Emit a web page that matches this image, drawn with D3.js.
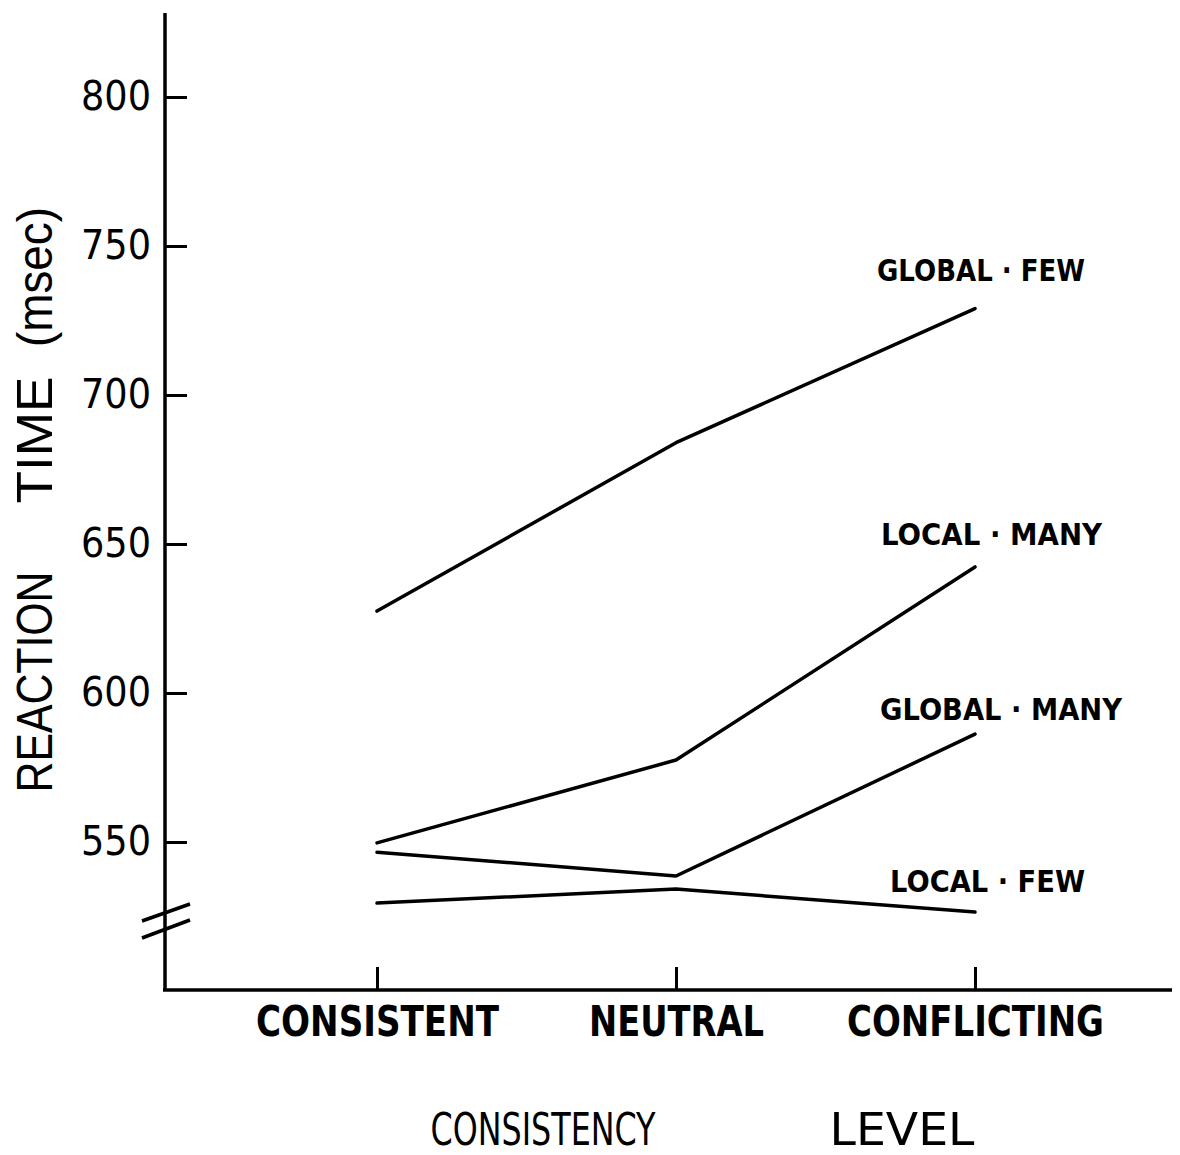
<!DOCTYPE html>
<html>
<head>
<meta charset="utf-8">
<script src="https://cdn.jsdelivr.net/npm/d3@7"></script>
<style>
  body { margin: 0; background: #fff; }
  svg { display: block; }
</style>
</head>
<body>
<div id="chart"></div>
<script>
// data (mean RT, msec)
const levels = ["CONSISTENT", "NEUTRAL", "CONFLICTING"];
const yTicks = [550, 600, 650, 700, 750, 800];
const globalFew = [627.5, 684, 729];
const localMany = [549.7, 577.5, 642.3];
const globalMany = [546.6, 538.6, 586.2];
const localFew = [529.5, 534.2, 526.5];
const seriesNames = ["GLOBAL \u00B7 FEW", "LOCAL \u00B7 MANY", "GLOBAL \u00B7 MANY", "LOCAL \u00B7 FEW"];

function drawChart(local) {
    const width = 1180, height = 1155;
    const axisX = 165, axisY = 990;

    const svg = d3.select(local)
        .append("svg")
        .attr("width", width)
        .attr("height", height);

    const x = d3.scalePoint().domain(levels).range([377, 975]);
    const y = d3.scaleLinear().domain([550, 800]).range([842, 97]);

    // y axis: ticks point into the plot, labels on the left
    const yAxis = svg.append("g")
        .attr("transform", "translate(" + axisX + ",0)")
        .call(d3.axisLeft(y).tickValues(yTicks).tickSizeInner(-22).tickSizeOuter(0).tickPadding(14));
    yAxis.select(".domain").remove();
    yAxis.selectAll("line").attr("stroke", "#000").attr("stroke-width", 3);
    yAxis.selectAll("text")
        .attr("font-family", "'DejaVu Sans', sans-serif")
        .attr("font-size", 40)
        .attr("fill", "#000")
        .attr("textLength", 70)
        .attr("lengthAdjust", "spacingAndGlyphs");

    svg.append("line")
        .attr("x1", axisX).attr("x2", axisX)
        .attr("y1", 13).attr("y2", axisY)
        .attr("stroke", "#000").attr("stroke-width", 3.5);

    // axis break marks
    const breaks = [[921, 904], [938, 920]];
    svg.selectAll("line.brk").data(breaks).enter()
        .append("line")
        .classed("brk", true)
        .attr("x1", 142).attr("y1", d => d[0])
        .attr("x2", 190).attr("y2", d => d[1])
        .attr("stroke", "#000").attr("stroke-width", 3.5);

    // x axis: ticks point up, labels below
    const xAxis = svg.append("g")
        .attr("transform", "translate(0," + axisY + ")")
        .call(d3.axisBottom(x).tickSizeInner(-23).tickSizeOuter(0));
    xAxis.select(".domain").remove();
    xAxis.selectAll("line").attr("stroke", "#000").attr("stroke-width", 3);
    const labelLen = { "CONSISTENT": 243, "NEUTRAL": 175, "CONFLICTING": 257 };
    xAxis.selectAll("text")
        .attr("y", 46).attr("dy", null)
        .attr("font-family", "'Liberation Sans Narrow', 'DejaVu Sans Condensed', sans-serif")
        .attr("font-weight", "bold")
        .attr("font-size", 42)
        .attr("fill", "#000")
        .attr("textLength", d => labelLen[d])
        .attr("lengthAdjust", "spacingAndGlyphs");

    svg.append("line")
        .attr("x1", axisX - 2).attr("x2", 1172)
        .attr("y1", axisY).attr("y2", axisY)
        .attr("stroke", "#000").attr("stroke-width", 3.5);

    // series lines
    const series = [globalFew, localMany, globalMany, localFew];
    const line = d3.line()
        .x((d, i) => x(levels[i]))
        .y(d => y(d));

    svg.append("g")
        .selectAll("path")
        .data(series)
        .enter().append("path")
        .attr("d", line)
        .attr("fill", "none")
        .attr("stroke", "#000")
        .attr("stroke-width", 3.5)
        .attr("stroke-linejoin", "round")
        .attr("stroke-linecap", "round");

    // series labels, sitting above the right end of each line
    const seriesLab = [
        { x: 877, y: 281, len: 208 },
        { x: 881, y: 545, len: 221 },
        { x: 880, y: 720, len: 242 },
        { x: 890, y: 892, len: 195 }
    ];
    svg.append("g")
        .selectAll("text")
        .data(seriesNames)
        .enter().append("text")
        .text(d => d)
        .attr("x", (d, i) => seriesLab[i].x)
        .attr("y", (d, i) => seriesLab[i].y)
        .attr("textLength", (d, i) => seriesLab[i].len)
        .attr("lengthAdjust", "spacingAndGlyphs")
        .attr("font-family", "'DejaVu Sans', sans-serif")
        .attr("font-weight", "bold")
        .attr("font-size", 30)
        .attr("fill", "#000");

    // x title
    const xTitle = [["CONSISTENCY", 543, 225], ["LEVEL", 902, 145]];
    svg.selectAll("text.xt").data(xTitle).enter()
        .append("text")
        .classed("xt", true)
        .text(d => d[0])
        .attr("x", d => d[1])
        .attr("y", 1145)
        .attr("text-anchor", "middle")
        .attr("textLength", d => d[2])
        .attr("lengthAdjust", "spacingAndGlyphs")
        .attr("font-family", "'Liberation Sans Narrow', 'DejaVu Sans Condensed', sans-serif")
        .attr("font-size", 44)
        .attr("fill", "#000");

    // y title, rotated
    const yTitle = [["REACTION", 682, 221], ["TIME", 440, 127], ["(msec)", 277, 140]];
    svg.selectAll("text.yt").data(yTitle).enter()
        .append("text")
        .classed("yt", true)
        .text(d => d[0])
        .attr("transform", d => "translate(52," + d[1] + ") rotate(-90)")
        .attr("text-anchor", "middle")
        .attr("textLength", d => d[2])
        .attr("lengthAdjust", "spacingAndGlyphs")
        .attr("font-family", "'Liberation Sans', Arial, sans-serif")
        .attr("font-size", 50)
        .attr("fill", "#000");
}

drawChart("#chart");
</script>
</body>
</html>
